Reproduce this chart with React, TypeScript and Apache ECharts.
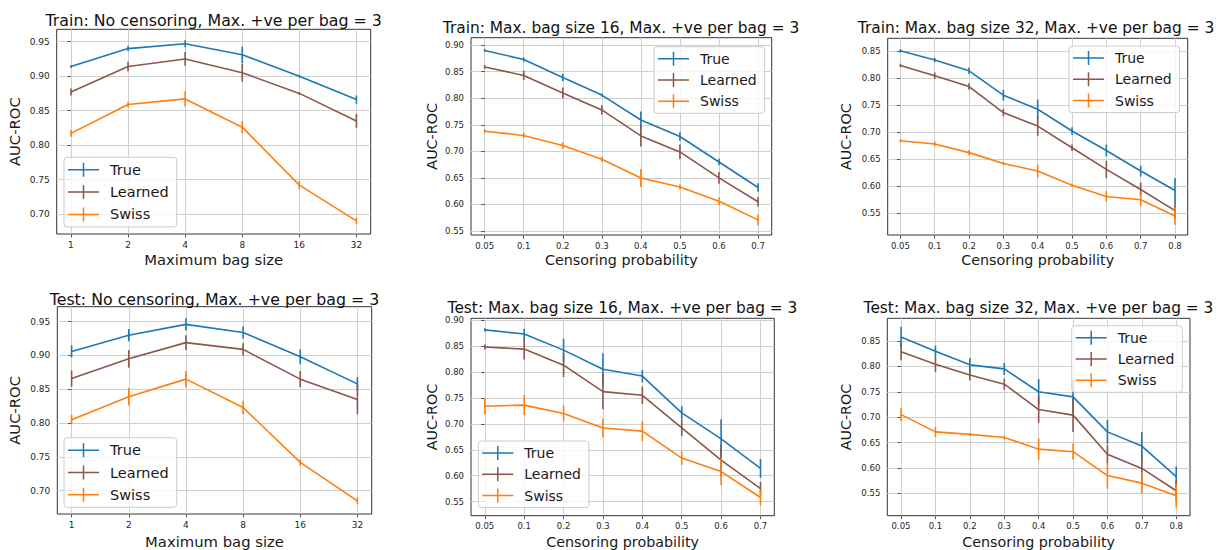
import React, { useEffect, useRef } from "react";
import * as echarts from "echarts";

// ---------- categories / ticks ----------
const bagSizes = ["1", "2", "4", "8", "16", "32"];
const censor16 = ["0.05", "0.1", "0.2", "0.3", "0.4", "0.5", "0.6", "0.7"];
const censor32 = ["0.05", "0.1", "0.2", "0.3", "0.4", "0.5", "0.6", "0.7", "0.8"];
const yTicksNc = [0.7, 0.75, 0.8, 0.85, 0.9, 0.95];
const yTicks16 = [0.55, 0.6, 0.65, 0.7, 0.75, 0.8, 0.85, 0.9];
const yTicks32 = [0.55, 0.6, 0.65, 0.7, 0.75, 0.8, 0.85];
const methods = ["True", "Learned", "Swiss"];

// ---------- Train: No censoring ----------
const trNcTrue = [0.914, 0.94, 0.947, 0.931, 0.9, 0.866];
const trNcTrueErr = [0.002, 0.004, 0.005, 0.012, 0.002, 0.006];
const trNcLearned = [0.877, 0.914, 0.925, 0.905, 0.875, 0.835];
const trNcLearnedErr = [0.005, 0.007, 0.01, 0.013, 0.002, 0.01];
const trNcSwiss = [0.817, 0.859, 0.867, 0.826, 0.742, 0.69];
const trNcSwissErr = [0.005, 0.004, 0.011, 0.009, 0.006, 0.005];

// ---------- Train: bag size 16 ----------
const tr16True = [0.89, 0.873, 0.839, 0.806, 0.759, 0.728, 0.68, 0.632];
const tr16TrueErr = [0.003, 0.004, 0.007, 0.003, 0.016, 0.008, 0.006, 0.008];
const tr16Learned = [0.859, 0.843, 0.81, 0.778, 0.729, 0.699, 0.65, 0.605];
const tr16LearnedErr = [0.004, 0.009, 0.01, 0.009, 0.02, 0.014, 0.011, 0.009];
const tr16Swiss = [0.738, 0.73, 0.711, 0.685, 0.65, 0.633, 0.606, 0.571];
const tr16SwissErr = [0.004, 0.005, 0.006, 0.005, 0.017, 0.005, 0.007, 0.01];

// ---------- Train: bag size 32 ----------
const tr32True = [0.85, 0.833, 0.813, 0.768, 0.742, 0.702, 0.666, 0.628, 0.592];
const tr32TrueErr = [0.003, 0.004, 0.006, 0.01, 0.018, 0.007, 0.011, 0.01, 0.023];
const tr32Learned = [0.823, 0.804, 0.784, 0.736, 0.711, 0.671, 0.631, 0.594, 0.555];
const tr32LearnedErr = [0.003, 0.006, 0.006, 0.007, 0.018, 0.006, 0.016, 0.013, 0.015];
const tr32Swiss = [0.684, 0.678, 0.662, 0.642, 0.628, 0.602, 0.581, 0.575, 0.545];
const tr32SwissErr = [0.003, 0.004, 0.005, 0.003, 0.012, 0.003, 0.01, 0.012, 0.016];

// ---------- Test: No censoring ----------
const teNcTrue = [0.906, 0.93, 0.946, 0.934, 0.898, 0.858];
const teNcTrueErr = [0.009, 0.009, 0.009, 0.009, 0.011, 0.01];
const teNcLearned = [0.866, 0.895, 0.919, 0.909, 0.865, 0.835];
const teNcLearnedErr = [0.012, 0.013, 0.011, 0.009, 0.012, 0.022];
const teNcSwiss = [0.805, 0.839, 0.865, 0.823, 0.742, 0.685];
const teNcSwissErr = [0.007, 0.013, 0.012, 0.01, 0.005, 0.005];

// ---------- Test: bag size 16 ----------
const te16True = [0.881, 0.873, 0.842, 0.805, 0.792, 0.721, 0.671, 0.614];
const te16TrueErr = [0.003, 0.01, 0.022, 0.031, 0.012, 0.013, 0.038, 0.018];
const te16Learned = [0.848, 0.844, 0.813, 0.762, 0.755, 0.692, 0.63, 0.575];
const te16LearnedErr = [0.005, 0.02, 0.023, 0.034, 0.017, 0.016, 0.03, 0.013];
const te16Swiss = [0.734, 0.736, 0.72, 0.692, 0.686, 0.634, 0.608, 0.558];
const te16SwissErr = [0.016, 0.019, 0.015, 0.018, 0.019, 0.013, 0.026, 0.015];

// ---------- Test: bag size 32 ----------
const te32True = [0.858, 0.83, 0.803, 0.795, 0.75, 0.74, 0.671, 0.643, 0.583];
const te32TrueErr = [0.02, 0.011, 0.013, 0.012, 0.025, 0.033, 0.024, 0.028, 0.02];
const te32Learned = [0.829, 0.804, 0.783, 0.765, 0.715, 0.704, 0.627, 0.599, 0.555];
const te32LearnedErr = [0.017, 0.015, 0.011, 0.011, 0.026, 0.033, 0.018, 0.029, 0.021];
const te32Swiss = [0.705, 0.671, 0.666, 0.66, 0.637, 0.632, 0.585, 0.57, 0.545];
const te32SwissErr = [0.013, 0.01, 0.003, 0.004, 0.021, 0.016, 0.026, 0.021, 0.023];

const COLORS = ["#1f77b4", "#8c564b", "#ff7f0e"];
const FONT = "DejaVu Sans";
const ICON =
  "path://M0,6.25L31,6.25L31,7.75L0,7.75Z M14.75,0L16.25,0L16.25,14L14.75,14Z";

type Panel = {
  title: string;
  xName: string;
  cats: string[];
  yTicks: number[];
  vals: number[][];
  errs: number[][];
  grid: { left: number; top: number; width: number; height: number };
  xRange: [number, number];
  yRange: [number, number];
  titlePos: [number, number];
  titleSize: number;
  legendPos: [number, number];
  tickSize: number;
  nameSize: number;
  yNameGap: number;
  xNameGap: number;
};

const panels: Panel[] = [
  {
    title: "Train: No censoring, Max. +ve per bag = 3",
    xName: "Maximum bag size",
    cats: bagSizes,
    yTicks: yTicksNc,
    vals: [trNcTrue, trNcLearned, trNcSwiss],
    errs: [trNcTrueErr, trNcLearnedErr, trNcSwissErr],
    grid: { left: 56.7, top: 29.3, width: 314, height: 204.7 },
    xRange: [-0.25, 5.25],
    yRange: [0.671, 0.968],
    titlePos: [213.7, 20],
    titleSize: 15.8,
    legendPos: [64, 157.3],
    tickSize: 9,
    nameSize: 14.8,
    yNameGap: 35,
    xNameGap: 18,
  },
  {
    title: "Train: Max. bag size 16, Max. +ve per bag = 3",
    xName: "Censoring probability",
    cats: censor16,
    yTicks: yTicks16,
    vals: [tr16True, tr16Learned, tr16Swiss],
    errs: [tr16TrueErr, tr16LearnedErr, tr16SwissErr],
    grid: { left: 471, top: 37.7, width: 300.7, height: 197.3 },
    xRange: [-0.35, 7.35],
    yRange: [0.5425, 0.914],
    titlePos: [621, 28],
    titleSize: 15.4,
    legendPos: [654, 46.7],
    tickSize: 8.5,
    nameSize: 14.3,
    yNameGap: 31.7,
    xNameGap: 18,
  },
  {
    title: "Train: Max. bag size 32, Max. +ve per bag = 3",
    xName: "Censoring probability",
    cats: censor32,
    yTicks: yTicks32,
    vals: [tr32True, tr32Learned, tr32Swiss],
    errs: [tr32TrueErr, tr32LearnedErr, tr32SwissErr],
    grid: { left: 887.7, top: 38.3, width: 300, height: 196.7 },
    xRange: [-0.37, 8.37],
    yRange: [0.51, 0.873],
    titlePos: [1036, 28],
    titleSize: 15.4,
    legendPos: [1069, 46],
    tickSize: 8.5,
    nameSize: 14.3,
    yNameGap: 34.4,
    xNameGap: 18,
  },
  {
    title: "Test: No censoring, Max. +ve per bag = 3",
    xName: "Maximum bag size",
    cats: bagSizes,
    yTicks: yTicksNc,
    vals: [teNcTrue, teNcLearned, teNcSwiss],
    errs: [teNcTrueErr, teNcLearnedErr, teNcSwissErr],
    grid: { left: 57.3, top: 306.7, width: 314.4, height: 207.6 },
    xRange: [-0.25, 5.25],
    yRange: [0.6656, 0.9721],
    titlePos: [214.5, 299.5],
    titleSize: 15.8,
    legendPos: [64, 437.7],
    tickSize: 9,
    nameSize: 14.8,
    yNameGap: 35,
    xNameGap: 20,
  },
  {
    title: "Test: Max. bag size 16, Max. +ve per bag = 3",
    xName: "Censoring probability",
    cats: censor16,
    yTicks: yTicks16,
    vals: [te16True, te16Learned, te16Swiss],
    errs: [te16TrueErr, te16LearnedErr, te16SwissErr],
    grid: { left: 471, top: 318.3, width: 303.3, height: 197.4 },
    xRange: [-0.35, 7.35],
    yRange: [0.523, 0.9033],
    titlePos: [622.5, 308],
    titleSize: 15.4,
    legendPos: [478.3, 441],
    tickSize: 8.5,
    nameSize: 14.3,
    yNameGap: 31.7,
    xNameGap: 19,
  },
  {
    title: "Test: Max. bag size 32, Max. +ve per bag = 3",
    xName: "Censoring probability",
    cats: censor32,
    yTicks: yTicks32,
    vals: [te32True, te32Learned, te32Swiss],
    errs: [te32TrueErr, te32LearnedErr, te32SwissErr],
    grid: { left: 887.3, top: 318.3, width: 302.7, height: 197.4 },
    xRange: [-0.4, 8.4],
    yRange: [0.5059, 0.8947],
    titlePos: [1038.5, 308],
    titleSize: 15.4,
    legendPos: [1071.7, 325.7],
    tickSize: 8.5,
    nameSize: 14.3,
    yNameGap: 34,
    xNameGap: 19,
  },
];

function buildOption() {
  const grid: any[] = [];
  const xAxis: any[] = [];
  const yAxis: any[] = [];
  const series: any[] = [];
  const legend: any[] = [];
  const graphic: any[] = [];

  panels.forEach((p, pi) => {
    grid.push({
      left: p.grid.left,
      top: p.grid.top,
      width: p.grid.width,
      height: p.grid.height,
      show: true,
      borderColor: "#333333",
      borderWidth: 1,
      backgroundColor: "transparent",
      containLabel: false,
    });
    const xIdx = p.cats.map((_, i) => i);
    xAxis.push({
      type: "value",
      gridIndex: pi,
      min: p.xRange[0],
      max: p.xRange[1],
      name: p.xName,
      nameLocation: "middle",
      nameGap: p.xNameGap,
      nameTextStyle: { fontFamily: FONT, fontSize: p.nameSize, color: "#1a1a1a", verticalAlign: "top" },
      axisLine: { show: false },
      axisTick: {
        show: true,
        length: 3.5,
        customValues: xIdx,
        lineStyle: { color: "#333333", width: 0.8 },
      },
      axisLabel: {
        customValues: xIdx,
        margin: 6,
        fontFamily: FONT,
        fontSize: p.tickSize,
        color: "#262626",
        formatter: (v: number) => p.cats[Math.round(v)] ?? "",
      },
      splitLine: { show: true, lineStyle: { color: "#d0d0d0", width: 1 } },
    });
    yAxis.push({
      type: "value",
      gridIndex: pi,
      min: p.yRange[0],
      max: p.yRange[1],
      name: "AUC-ROC",
      nameLocation: "middle",
      nameGap: p.yNameGap,
      nameTextStyle: { fontFamily: FONT, fontSize: p.nameSize, color: "#1a1a1a" },
      axisLine: { show: false },
      axisTick: {
        show: true,
        length: 3.5,
        customValues: p.yTicks,
        lineStyle: { color: "#333333", width: 0.8 },
      },
      axisLabel: {
        customValues: p.yTicks,
        margin: 7,
        fontFamily: FONT,
        fontSize: p.tickSize,
        color: "#262626",
        formatter: (v: number) => v.toFixed(2),
      },
      splitLine: { show: true, lineStyle: { color: "#d0d0d0", width: 1 } },
    });

    methods.forEach((m, mi) => {
      const color = COLORS[mi];
      series.push({
        type: "line",
        name: m,
        xAxisIndex: pi,
        yAxisIndex: pi,
        data: p.vals[mi].map((v, i) => [i, v]),
        symbol: "none",
        lineStyle: { color, width: 1.6 },
        itemStyle: { color },
        z: 3 + mi,
        silent: true,
      });
      series.push({
        type: "custom",
        name: m + " error",
        xAxisIndex: pi,
        yAxisIndex: pi,
        data: p.vals[mi].map((v, i) => [i, v - p.errs[mi][i], v + p.errs[mi][i]]),
        encode: { x: 0, y: [1, 2] },
        z: 3 + mi,
        silent: true,
        renderItem: (params: any, api: any) => {
          const x = api.value(0);
          const a = api.coord([x, api.value(1)]);
          const b = api.coord([x, api.value(2)]);
          return {
            type: "line",
            shape: { x1: a[0], y1: a[1], x2: b[0], y2: b[1] },
            style: { stroke: color, lineWidth: 1.6 },
          };
        },
      });
    });

    legend.push({
      orient: "vertical",
      left: p.legendPos[0],
      top: p.legendPos[1],
      data: methods,
      icon: ICON,
      itemWidth: 31,
      itemHeight: 14,
      itemGap: 7.3,
      padding: [5, 8, 5, 4],
      backgroundColor: "rgba(255,255,255,0.8)",
      borderColor: "#cccccc",
      borderWidth: 1,
      borderRadius: 3,
      selectedMode: false,
      itemStyle: { borderWidth: 0 },
      textStyle: {
        fontFamily: FONT,
        fontSize: p.nameSize - 0.3,
        color: "#1a1a1a",
        lineHeight: 14,
        padding: [0, 0, 0, 6],
      },
      z: 10,
    });

    graphic.push({
      type: "text",
      x: p.titlePos[0],
      y: p.titlePos[1],
      style: {
        text: p.title,
        fontFamily: FONT,
        fontSize: p.titleSize,
        fill: "#111111",
        textAlign: "center",
        textVerticalAlign: "middle",
      },
    });
  });

  return {
    animation: false,
    backgroundColor: "#ffffff",
    grid,
    xAxis,
    yAxis,
    series,
    legend,
    graphic,
  };
}

export default function App() {
  const ref = useRef<HTMLDivElement>(null);
  useEffect(() => {
    if (!ref.current) return;
    const chart = echarts.init(ref.current, undefined, { renderer: "svg" });
    chart.setOption(buildOption() as any);
    return () => chart.dispose();
  }, []);
  return (
    <div
      ref={ref}
      style={{ position: "absolute", left: 0, top: 0, width: 1218, height: 550 }}
    />
  );
}
